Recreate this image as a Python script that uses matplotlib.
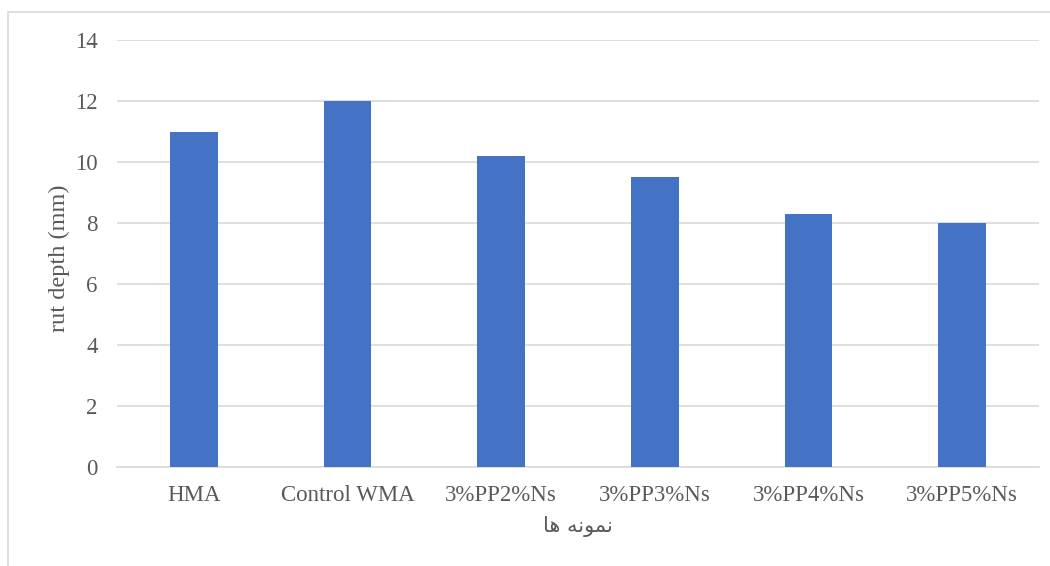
import matplotlib.pyplot as plt
from matplotlib.patches import Rectangle

samples = ['HMA', 'Control WMA', '3%PP2%Ns', '3%PP3%Ns', '3%PP4%Ns', '3%PP5%Ns']
rut_depth = [11.0, 12.0, 10.2, 9.5, 8.3, 8.0]
y_ticks = [0, 2, 4, 6, 8, 10, 12, 14]

# "نمونه ها" written with presentation forms in visual order (matplotlib has no shaping)
x_title = '\uFE8E\uFEEB \uFEEA\uFEE7\uFEEE\uFEE4\uFEE7'

plt.rcParams['font.family'] = ['Liberation Serif', 'DejaVu Sans']
text_col = '#595959'
grid_col = '#d9d9d9'

fig = plt.figure(figsize=(10.5, 5.66), dpi=100)
ax = fig.add_axes([0.1114, 0.1749, 0.8781, 0.7544])

ax.bar(range(len(samples)), rut_depth, width=0.31, color='#4472C4', zorder=3)

ax.set_xlim(-0.5, len(samples) - 0.5)
ax.set_ylim(0, 14)
ax.set_yticks(y_ticks)
ax.set_xticks(range(len(samples)))
ax.set_xticklabels(samples)
ax.yaxis.grid(True, color=grid_col, linewidth=1.2, zorder=0)
ax.tick_params(length=0, labelsize=16.5, labelcolor=text_col)
ax.tick_params(axis='y', pad=14)
ax.tick_params(axis='x', pad=13)

for s in ['top', 'right', 'left']:
    ax.spines[s].set_visible(False)
ax.spines['bottom'].set_color(grid_col)
ax.spines['bottom'].set_linewidth(1.2)

ax.set_ylabel('rut depth (mm)', fontsize=17.5, color=text_col, va='center')
ax.yaxis.set_label_coords(-0.062, 0.49)
ax.set_xlabel(x_title, fontsize=15, color=text_col, va='center',
              family=['DejaVu Sans'])
ax.xaxis.set_label_coords(0.5, -0.14)

# outer chart frame
fig.patches.append(Rectangle((8 / 1050, -0.1), 1.2, 1 - 12 / 566 + 0.1,
                             transform=fig.transFigure, fill=False,
                             edgecolor=grid_col, linewidth=1.2))

fig.savefig('out.png', dpi=100)
